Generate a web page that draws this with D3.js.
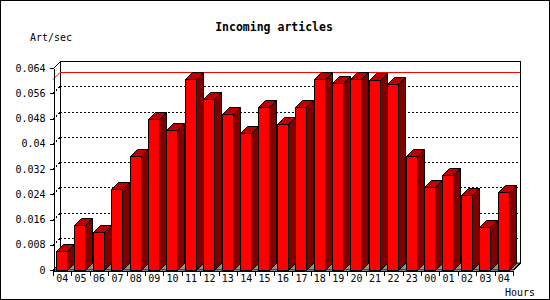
<!DOCTYPE html>
<html>
<head>
<meta charset="utf-8">
<script src="https://cdn.jsdelivr.net/npm/d3@7"></script>
<style>
  body { margin: 0; background: #fff; }
  text { font-family: "DejaVu Sans Mono", monospace; }
</style>
</head>
<body>
<div id="chart"></div>
<script>
// hours on the x axis (24h window, starts and ends at 04)
let hours = ["04","05","06","07","08","09","10","11","12","13","14","15","16",
             "17","18","19","20","21","22","23","00","01","02","03","04"];
// articles per second
let rates = [0.0060, 0.0143, 0.0120, 0.0256, 0.0360, 0.0477, 0.0443, 0.0605, 0.0541,
             0.0493, 0.0433, 0.0516, 0.0462, 0.0516, 0.0605, 0.0592, 0.0605, 0.0602,
             0.0589, 0.0360, 0.0262, 0.0301, 0.0238, 0.0135, 0.0246];
let yTicks = [0, 0.008, 0.016, 0.024, 0.032, 0.04, 0.048, 0.056, 0.064];

let W = 550, H = 300;
let pLeft = 53, pRight = 513, pBottom = 270, pTop = 68;
let depth = 7;

let svg = d3.select("#chart").append("svg")
    .attr("width", W)
    .attr("height", H);

// outer frame
svg.append("rect")
    .attr("x", 0.5).attr("y", 0.5)
    .attr("width", W - 1).attr("height", H - 1)
    .attr("fill", "#fff").attr("stroke", "#000");

// scales
let x = d3.scaleBand()
    .domain(d3.range(hours.length))
    .range([pLeft, pRight])
    .padding(0);
let xl = d3.scaleLinear().domain([0, hours.length]).range([pLeft, pRight]);
let y = d3.scaleLinear().domain([0, 0.064]).range([pBottom, pTop]);

// back plane
svg.append("rect")
    .attr("x", pLeft + depth + 0.5)
    .attr("y", pTop - depth + 0.5)
    .attr("width", pRight - pLeft)
    .attr("height", pBottom - pTop)
    .attr("fill", "#fff")
    .attr("stroke", "#000")
    .attr("shape-rendering", "crispEdges");

// dotted grid on back wall + left wall
let grid = svg.append("g")
    .attr("stroke", "#000")
    .attr("stroke-dasharray", "2,2")
    .attr("shape-rendering", "crispEdges");
yTicks.filter(v => v > 0 && v < 0.064).forEach(v => {
    let yy = Math.round(y(v)) + 0.5;
    grid.append("line")
        .attr("x1", pLeft + depth).attr("x2", pRight + depth)
        .attr("y1", yy - depth).attr("y2", yy - depth);
    grid.append("line")
        .attr("x1", pLeft).attr("x2", pLeft + depth)
        .attr("y1", yy).attr("y2", yy - depth)
        .attr("shape-rendering", null);
});

// red line at the maximum
let maxV = d3.max(rates);
let ym = Math.round(y(maxV)) + 0.5;
svg.append("line")
    .attr("x1", pLeft + depth).attr("x2", pRight + depth)
    .attr("y1", ym - depth).attr("y2", ym - depth)
    .attr("stroke", "#ff0000")
    .attr("shape-rendering", "crispEdges");
svg.append("line")
    .attr("x1", pLeft).attr("x2", pLeft + depth)
    .attr("y1", ym).attr("y2", ym - depth)
    .attr("stroke", "#ff0000");

// floor
svg.append("polygon")
    .attr("points", [[pLeft, pBottom], [pRight, pBottom], [pRight + depth, pBottom - depth], [pLeft + depth, pBottom - depth]].join(" "))
    .attr("fill", "#8f8f8f")
    .attr("stroke", "#000");

// bars
let bw = x.bandwidth() - depth;
let bars = svg.append("g").attr("stroke", "#000").attr("stroke-width", 1);
rates.forEach((v, i) => {
    let xf = Math.round(x(i) + 3) + 0.5;
    let w = Math.round(bw);
    let yt = Math.round(y(v)) + 0.5;
    let yb = pBottom + 0.5;
    bars.append("polygon")
        .attr("points", [[xf + w, yt], [xf + w + depth, yt - depth], [xf + w + depth, yb - depth], [xf + w, yb]].join(" "))
        .attr("fill", "#800000");
    bars.append("polygon")
        .attr("points", [[xf, yt], [xf + w, yt], [xf + w + depth, yt - depth], [xf + depth, yt - depth]].join(" "))
        .attr("fill", "#c00000");
    bars.append("rect")
        .attr("x", xf).attr("y", yt)
        .attr("width", w).attr("height", yb - yt)
        .attr("fill", "#ff0000");
});

// y axis
let yAxis = svg.append("g")
    .attr("transform", "translate(" + (pLeft + 0.5) + ",0)")
    .attr("shape-rendering", "crispEdges")
    .call(d3.axisLeft(y).tickValues(yTicks).tickSize(4).tickSizeOuter(0)
        .tickFormat(d => String(+d.toFixed(3))));
yAxis.selectAll("text")
    .attr("font-family", "DejaVu Sans Mono")
    .attr("font-size", "10px")
    .attr("fill", "#000")
    .attr("x", -8);
yAxis.select(".domain").attr("stroke", "#000");

// diagonal at top left of the wall
svg.append("line")
    .attr("x1", pLeft + 0.5).attr("y1", pTop + 0.5)
    .attr("x2", pLeft + depth + 0.5).attr("y2", pTop - depth + 0.5)
    .attr("stroke", "#000");

// x axis: tick marks at band edges, labels at centres
svg.append("g")
    .attr("transform", "translate(0," + (pBottom + 0.5) + ")")
    .attr("shape-rendering", "crispEdges")
    .call(d3.axisBottom(xl).tickValues(d3.range(hours.length + 1))
        .tickSize(5).tickSizeOuter(0).tickFormat(""))
    .select(".domain").attr("stroke", "#000");

let xLab = svg.append("g")
    .attr("transform", "translate(0," + pBottom + ")")
    .call(d3.axisBottom(x).tickSize(0).tickFormat(i => hours[i]));
xLab.select(".domain").remove();
xLab.selectAll("text")
    .attr("font-family", "DejaVu Sans Mono")
    .attr("font-size", "10px")
    .attr("fill", "#000")
    .attr("y", 5);

// right bottom diagonal
svg.append("line")
    .attr("x1", pRight + 0.5).attr("y1", pBottom + 0.5)
    .attr("x2", pRight + depth + 0.5).attr("y2", pBottom - depth + 0.5)
    .attr("stroke", "#000");

// titles
svg.append("text")
    .attr("x", 274).attr("y", 31)
    .attr("text-anchor", "middle")
    .attr("font-size", "11.5px")
    .attr("font-weight", "bold")
    .text("Incoming articles");
svg.append("text")
    .attr("x", 30).attr("y", 41)
    .attr("font-size", "10px")
    .text("Art/sec");
svg.append("text")
    .attr("x", 535).attr("y", 296)
    .attr("text-anchor", "end")
    .attr("font-size", "10px")
    .text("Hours");
</script>
</body>
</html>
